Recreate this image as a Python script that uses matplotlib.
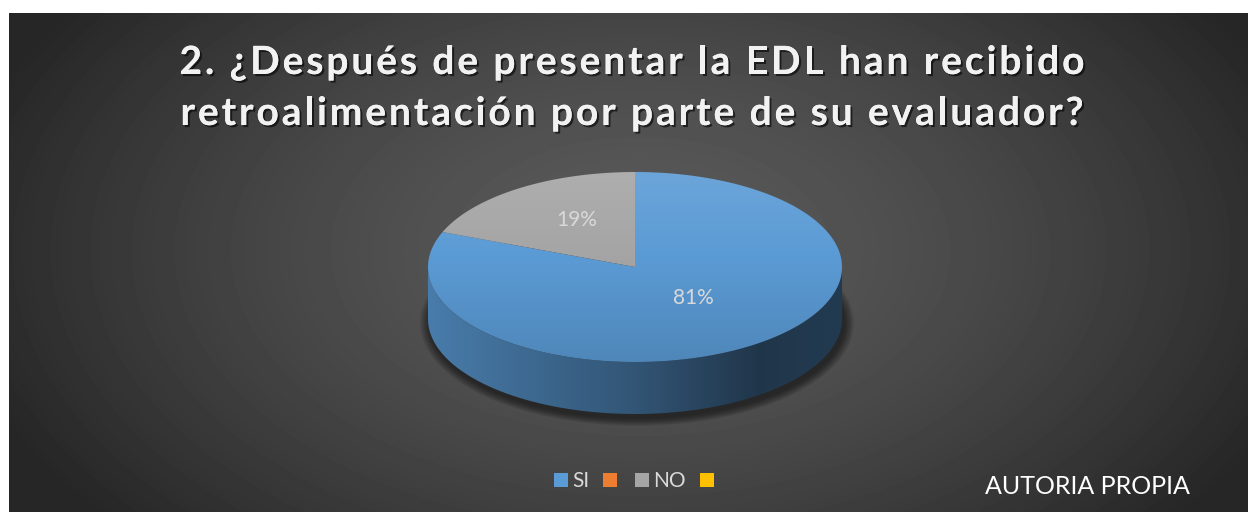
import numpy as np
import matplotlib
matplotlib.use('Agg')
import matplotlib.pyplot as plt
from matplotlib.patches import Polygon, Ellipse, Patch
from matplotlib.colors import to_rgb
from matplotlib.font_manager import FontProperties, findfont
from matplotlib.ft2font import FT2Font
import matplotlib.patheffects as pe

categories = ['SI', '', 'NO', '']
values = [81, 0, 19, 0]
colors = ['#5b9bd5', '#ed7d31', '#a5a5a5', '#ffc000']
title_lines = ['2. ¿Después de presentar la EDL han recibido',
               'retroalimentación por parte de su evaluador?']
source = 'AUTORIA PROPIA'

W, H = 1248, 512
fig = plt.figure(figsize=(W / 100, H / 100), dpi=100)
fig.patch.set_facecolor('white')
ax = fig.add_axes([0, 0, 1, 1])

# dark radial background
x0, y0 = 9, 13
gx, gy = np.meshgrid(np.arange(x0, W), np.arange(y0, H))
r = np.sqrt(((gx - 640) / 700.0) ** 2 + ((gy - 250) / 420.0) ** 2)
v = 90 - 52 * np.clip(r, 0, 1) ** 1.5
ax.imshow(v, cmap='gray', vmin=0, vmax=255, extent=(x0, W, H, y0),
          aspect='auto', zorder=0, interpolation='bilinear')


def shade(c, f):
    rgb = np.array(to_rgb(c))
    if f <= 1:
        return np.clip(rgb * f, 0, 1)
    return rgb + (1 - rgb) * (f - 1)


# pie geometry
cx, cy, a, b, depth = 635, 267, 207, 95, 52


def ell(t, dy=0):
    t = np.radians(t)
    return np.column_stack([cx + a * np.cos(t), cy - b * np.sin(t) + dy])


# soft shadow under the pie
for k in range(10):
    ax.add_patch(Ellipse((cx + 2, cy + depth + 4), 2 * a + 20 - 2.0 * k,
                         2 * b + 16 - 1.6 * k, facecolor='black',
                         alpha=0.06, edgecolor='none', zorder=1))

fracs = np.array(values, dtype=float) / sum(values)
wedges = []
t = 90.0
for c, f in zip(colors, fracs):
    if f > 0:
        wedges.append((t - 360 * f, t, c))
    t -= 360 * f

# side walls (front half only)
side_pos = [0, 0.5, 0.8, 1.0]
side_fac = [0.8, 0.55, 0.35, 0.38]
for t1, t2, c in wedges:
    ts = np.linspace(t1, t2, 600)
    front = np.sin(np.radians(ts)) <= 0
    if not front.any():
        continue
    idx = np.where(front)[0]
    splits = np.split(idx, np.where(np.diff(idx) > 1)[0] + 1)
    for seg in splits:
        s = ts[seg]
        top = ell(s)
        bot = ell(s[::-1], depth)
        poly = Polygon(np.vstack([top, bot]), closed=True, facecolor='none',
                       edgecolor='none')
        ax.add_patch(poly)
        xs = np.linspace(0, 1, 300)
        fac = np.interp(xs, side_pos, side_fac)
        img = np.array([[shade(c, q) for q in fac]])
        im = ax.imshow(img, extent=(cx - a, cx + a, cy + b + depth, cy - b),
                       aspect='auto', zorder=2, interpolation='bilinear')
        im.set_clip_path(poly)

# top faces
for t1, t2, c in wedges:
    ts = np.linspace(t1, t2, 400)
    pts = np.vstack([[cx, cy], ell(ts)])
    poly = Polygon(pts, closed=True, facecolor='none', edgecolor='none')
    ax.add_patch(poly)
    ys = np.linspace(0, 1, 200)
    fac = 1.1 - 0.23 * ys
    img = np.array([[shade(c, q)] for q in fac])
    im = ax.imshow(img, extent=(cx - a, cx + a, cy + b, cy - b),
                   aspect='auto', zorder=3, interpolation='bilinear')
    im.set_clip_path(poly)

# data labels
for (t1, t2, c), f in zip(wedges, fracs[fracs > 0]):
    mid = np.radians((t1 + t2) / 2)
    lx = cx + 0.5 * a * np.cos(mid)
    ly = cy - 8 - 0.5 * b * np.sin(mid)
    ax.text(lx, ly, f'{round(f * 100):.0f}%', ha='center', va='center',
            color='#d9d9d9', fontsize=15, family='Lato', zorder=5)

# title, drawn letter by letter to get the wide tracking
tsize = 28
fp = FontProperties(family='Lato', weight='bold', size=tsize)
font = FT2Font(findfont(fp))
font.set_size(tsize, 100)


def advances(s):
    return np.array([font.load_char(ord(ch)).linearHoriAdvance / 65536.0
                     for ch in s])


adv1 = advances(title_lines[0])
track = (905 - adv1.sum()) / (len(title_lines[0]) - 1)
shadow = [pe.withSimplePatchShadow(offset=(1.5, -1.5), shadow_rgbFace='black',
                                   alpha=0.6), pe.Normal()]
for line, yb in zip(title_lines, [74, 125]):
    adv = advances(line) + track
    total = adv.sum() - track
    xs = 632 - total / 2 + np.concatenate([[0], np.cumsum(adv)[:-1]])
    for ch, xx in zip(line, xs):
        if ch == ' ':
            continue
        ax.text(xx, yb, ch, ha='left', va='baseline', color='#f2f2f2',
                fontproperties=fp, path_effects=shadow, zorder=5)

# legend
handles = [Patch(facecolor=c, edgecolor='none') for c in colors]
leg = ax.legend(handles, categories, loc='center', ncol=4,
                bbox_to_anchor=(636 / W, 1 - 481 / H), frameon=False,
                handlelength=0.68, handleheight=0.68, handletextpad=0.2,
                columnspacing=0.65, prop={'family': 'Lato', 'size': 15},
                labelcolor='#d9d9d9')

ax.text(1087, 486, source, ha='center', va='center', color='white',
        fontsize=18, family='Lato', zorder=5)

ax.set_xlim(0, W)
ax.set_ylim(H, 0)
ax.axis('off')
fig.savefig('out.png', dpi=100, facecolor='white')
